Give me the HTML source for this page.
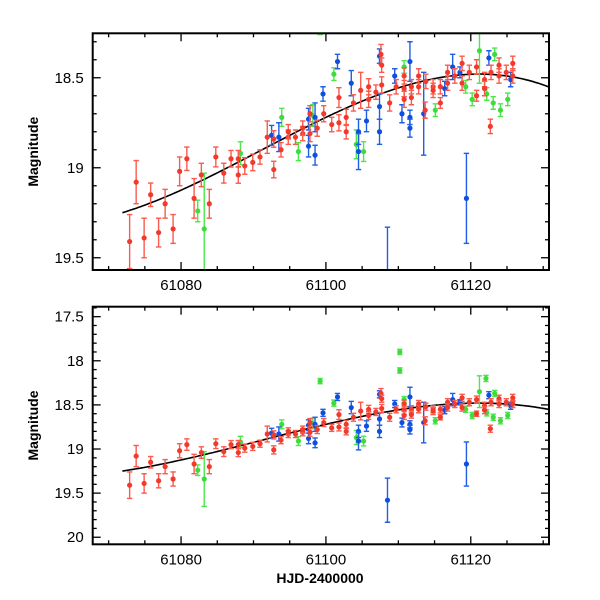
<!DOCTYPE html>
<html><head><meta charset="utf-8"><style>
body{margin:0;background:#fff;}
svg{display:block;font-family:"Liberation Sans",sans-serif;}
</style></head><body>
<svg id="chart" width="600" height="600" viewBox="0 0 600 600" xmlns="http://www.w3.org/2000/svg"></svg>
<script>
// ---- data ----
const redDays=[61072.9,61073.8,61074.9,61075.8,61076.9,61077.8,61078.9,61079.8,61080.8,61081.8,61082.8,61083.9,61084.8,61085.9,61086.9,61087.9,61087.9,61088.8,61089.9,61090.9,61091.9,61092.8,61092.8,61093.8,61094.8,61094.8,61095.8,61096.8,61096.8,61097.8,61097.8,61098.8,61099.7,61100.8,61101.8,61101.8,61102.8,61102.8,61103.8,61104.8,61105.9,61105.9,61106.9,61107.6,61107.7,61107.7,61108.8,61109.7,61110.8,61110.8,61110.8,61111.8,61111.8,61112.8,61112.8,61113.7,61113.8,61114.8,61114.8,61115.8,61115.8,61116.8,61116.8,61117.8,61118.8,61118.8,61119.8,61120.8,61120.8,61121.9,61121.9,61122.7,61122.8,61123.9,61123.9,61124.9,61125.8,61125.8];
const redMags=[19.41,19.08,19.39,19.15,19.36,19.20,19.34,19.02,18.95,19.17,19.04,19.20,18.94,19.03,18.95,18.95,19.04,18.99,18.97,18.94,18.83,19.01,18.84,18.90,18.83,18.80,18.83,18.81,18.78,18.70,18.81,18.78,18.70,18.76,18.61,18.75,18.72,18.80,18.64,18.57,18.55,18.62,18.58,18.37,18.43,18.54,18.64,18.55,18.49,18.56,18.62,18.55,18.61,18.49,18.55,18.68,18.52,18.55,18.57,18.55,18.64,18.47,18.53,18.49,18.42,18.53,18.47,18.44,18.60,18.51,18.56,18.77,18.47,18.43,18.49,18.47,18.42,18.49];
const redErrs=[0.15,0.12,0.11,0.065,0.08,0.08,0.08,0.08,0.065,0.11,0.065,0.08,0.055,0.055,0.046,0.046,0.046,0.046,0.046,0.04,0.09,0.046,0.046,0.04,0.04,0.04,0.04,0.04,0.04,0.045,0.045,0.045,0.045,0.04,0.055,0.045,0.045,0.04,0.045,0.1,0.045,0.045,0.04,0.055,0.04,0.045,0.045,0.04,0.045,0.045,0.045,0.04,0.04,0.04,0.04,0.045,0.04,0.04,0.04,0.04,0.03,0.04,0.04,0.04,0.04,0.04,0.04,0.04,0.03,0.04,0.04,0.04,0.04,0.04,0.04,0.04,0.04,0.04];
const greenDays=[61082.3,61083.2,61088.2,61093.9,61096.2,61098.2,61099.2,61101.1,61104.2,61105.2,61110.2,61110.2,61110.8,61115.1,61119.3,61120.2,61122.1,61121.2,61122.2,61123.1,61123.3,61124.1,61125.1];
const greenMags=[19.24,19.34,18.92,18.72,18.91,18.71,18.23,18.48,18.87,18.91,17.90,18.11,18.44,18.68,18.55,18.62,18.20,18.35,18.59,18.64,18.37,18.68,18.62];
const greenErrs=[0.06,0.31,0.064,0.05,0.05,0.06,0.03,0.035,0.08,0.055,0.03,0.03,0.035,0.035,0.035,0.035,0.035,0.18,0.035,0.035,0.035,0.035,0.035];
const blueDays=[61092.5,61093.5,61097.6,61097.6,61098.5,61098.5,61099.6,61101.6,61103.5,61104.5,61104.5,61105.6,61107.4,61107.4,61107.4,61108.5,61109.5,61110.5,61111.6,61111.6,61111.6,61113.5,61116.4,61117.5,61118.5,61119.4,61122.5,61125.5];
const blueMags=[18.82,18.83,18.73,18.88,18.72,18.93,18.59,18.41,18.53,18.80,18.91,18.74,18.38,18.66,18.80,19.58,18.49,18.70,18.41,18.72,18.78,18.70,18.56,18.44,18.47,19.17,18.39,18.51];
const blueErrs=[0.055,0.08,0.06,0.06,0.08,0.055,0.04,0.04,0.07,0.07,0.1,0.06,0.04,0.07,0.07,0.25,0.04,0.05,0.11,0.04,0.05,0.23,0.04,0.07,0.03,0.25,0.04,0.04];
const fitCoeffs=[18.72,-0.019205,0.0002063,0.00000778]; // polynomial in (day-61100)
const fitRange=[61071.9,61131];
const xTicks=[61080,61100,61120];
const topYTicks=[18.5,19,19.5];
const botYTicks=[17.5,18,18.5,19,19.5,20];

const NS="http://www.w3.org/2000/svg";
const svg=document.getElementById('chart');
function mk(tag,attrs,parent){const e=document.createElementNS(NS,tag);for(const k in attrs)e.setAttribute(k,attrs[k]);(parent||svg).appendChild(e);return e;}
const X0=92.7,X1=549,D0=61067.8,D1=61130.8;
function xs(d){return X0+(d-D0)/(D1-D0)*(X1-X0);}
const panels=[
 {name:'top',y0:33.3,y1:270,m0:18.253,m1:19.568,yt:topYTicks},
 {name:'bottom',y0:306.7,y1:544.3,m0:17.387,m1:20.08,yt:botYTicks}
];
const series=[
 {name:'green',d:greenDays,m:greenMags,e:greenErrs,bar:'#4be84b',pt:'#3cdc3c'},
 {name:'blue',d:blueDays,m:blueMags,e:blueErrs,bar:'#1f5fe6',pt:'#0f4fe0'},
 {name:'red',d:redDays,m:redMags,e:redErrs,bar:'#fb5a4c',pt:'#f23a2c'}
];
panels.forEach((p,pi)=>{
 const ys=m=>p.y0+(m-p.m0)/(p.m1-p.m0)*(p.y1-p.y0);
 const g=mk('g',{});
 
 
 const cid='clip'+pi;
 const cp=mk('clipPath',{id:cid},g);mk('rect',{x:X0,y:p.y0,width:X1-X0,height:p.y1-p.y0},cp);
 const plot=mk('g',{'clip-path':'url(#'+cid+')'},g);
 // fit curve
 let pts=[];
 for(let d=fitRange[0];d<=fitRange[1];d+=0.25){const t=d-61100;const m=fitCoeffs[0]+fitCoeffs[1]*t+fitCoeffs[2]*t*t+fitCoeffs[3]*t*t*t;pts.push(xs(d).toFixed(1)+','+ys(m).toFixed(1));}
 const fit=mk('polyline',{points:pts.join(' '),fill:'none',stroke:'#000','stroke-width':1.6},plot);
 
 
 series.forEach(s=>{
  const sg=mk('g',{},plot);
  
  
  s.d.forEach((d,i)=>{
   const x=xs(d),y=ys(s.m[i]),ya=ys(s.m[i]-s.e[i]),yb=ys(s.m[i]+s.e[i]);
   mk('line',{x1:x,x2:x,y1:ya,y2:yb,stroke:s.bar,'stroke-width':1.4},sg);
   mk('line',{x1:x-2.7,x2:x+2.7,y1:ya,y2:ya,stroke:s.bar,'stroke-width':1.4},sg);
   mk('line',{x1:x-2.7,x2:x+2.7,y1:yb,y2:yb,stroke:s.bar,'stroke-width':1.4},sg);
   const c=mk('circle',{cx:x,cy:y,r:2.6,fill:s.pt},sg);
   
   
  });
 });
 // ticks
 const tg=mk('g',{stroke:'#000','stroke-width':1.3},g);
 for(let d=61070;d<=61130;d+=5){const x=xs(d);const L=(d%20===0)?8:4;
  mk('line',{x1:x,x2:x,y1:p.y0,y2:p.y0+L},tg);mk('line',{x1:x,x2:x,y1:p.y1,y2:p.y1-L},tg);}
 for(let k=Math.ceil(p.m0*10);k<=Math.floor(p.m1*10);k++){const m=k/10;const y=ys(m);const L=(k%5===0)?8:4;
  mk('line',{x1:X0,x2:X0+L,y1:y,y2:y},tg);mk('line',{x1:X1,x2:X1-L,y1:y,y2:y},tg);}
 const fr=mk('rect',{x:X0,y:p.y0,width:X1-X0,height:p.y1-p.y0,fill:'none',stroke:'#000','stroke-width':2},g);
 
 
 xTicks.forEach(v=>{const t=mk('text',{x:xs(v),y:p.y1+20,'text-anchor':'middle','font-size':15},g);t.textContent=v;
  
  });
 p.yt.forEach(v=>{const t=mk('text',{x:X0-9,y:ys(v)+5,'text-anchor':'end','font-size':15},g);t.textContent=v;
  
  });
 const yl=mk('text',{x:0,y:0,transform:'translate(38,'+((p.y0+p.y1)/2)+') rotate(-90)','text-anchor':'middle','font-size':14,'font-weight':'bold'},g);
 yl.textContent='Magnitude';
 
 
});
const xl=mk('text',{x:320,y:583,'text-anchor':'middle','font-size':14,'font-weight':'bold'});
xl.textContent='HJD-2400000';


</script>
</body></html>
